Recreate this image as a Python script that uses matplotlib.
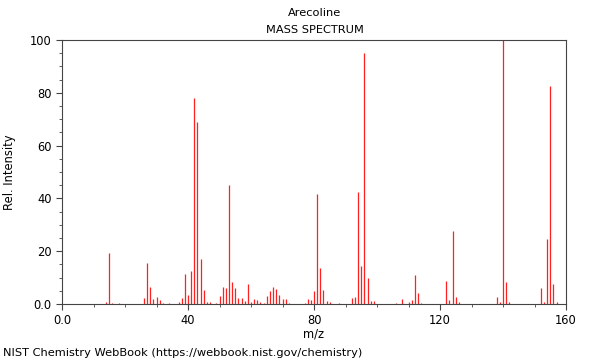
# LIBRARIES

import matplotlib
matplotlib.use("Agg")
import matplotlib.pyplot as plt
from matplotlib.ticker import MultipleLocator


# DATA

mz = [14, 15, 16, 18, 26, 27, 28, 29, 30, 31, 32, 34,
      37, 38, 39, 40, 41, 42, 43, 44, 45, 46, 47, 49,
      50, 51, 52, 53, 54, 55, 56, 57, 58, 59, 60, 61,
      62, 63, 64, 65, 66, 67, 68, 69, 70, 71, 72, 77,
      78, 79, 80, 81, 82, 83, 84, 85, 88, 92, 93, 94,
      95, 96, 97, 98, 99, 106, 108, 110, 111, 112, 113, 114,
      122, 123, 124, 125, 126, 138, 139, 140, 141, 142,
      152, 153, 154, 155, 156, 157]
intensity = [0.9, 19.4, 0.3, 0.3, 2.1, 15.7, 6.3, 2.0, 2.6, 1.5, 0.5, 0.3,
             0.9, 2.4, 11.4, 3.3, 12.5, 78.0, 68.8, 17.0, 5.4, 0.9, 0.9, 0.3,
             3.2, 6.3, 6.0, 45.1, 8.3, 6.0, 2.3, 2.3, 1.0, 7.6, 0.8, 1.8,
             1.5, 0.9, 0.3, 2.9, 4.9, 6.4, 5.5, 3.3, 1.8, 1.8, 0.3, 0.3,
             1.9, 1.6, 4.8, 41.5, 13.8, 5.3, 1.2, 0.6, 0.3, 2.4, 2.6, 42.4,
             14.4, 95.2, 9.8, 1.0, 1.0, 0.3, 2.0, 0.9, 1.4, 11.0, 4.3, 0.3,
             8.7, 1.5, 27.5, 2.6, 0.9, 2.6, 0.6, 100.0, 8.3, 0.8,
             6.0, 0.8, 24.6, 82.4, 7.7, 0.8]

compound = "Arecoline"
x_ticks = [0, 40, 80, 120, 160]
x_labels = ["0.0", "40", "80", "120", "160"]
y_ticks = [0, 20, 40, 60, 80, 100]
y_labels = ["0.0", "20", "40", "60", "80", "100"]


# VISUALIZATION

fig = plt.figure(figsize=(6, 3.6), dpi=100)
ax = fig.add_axes([62/600, 1 - 304/360, 504/600, 264/360])

ax.vlines(mz, 0, intensity, colors="#ff2020", linewidth=0.9)

ax.set_xlim(0, 160)
ax.set_ylim(0, 100)
ax.set_xticks(x_ticks)
ax.set_xticklabels(x_labels)
ax.set_yticks(y_ticks)
ax.set_yticklabels(y_labels)
ax.xaxis.set_minor_locator(MultipleLocator(10))
ax.yaxis.set_minor_locator(MultipleLocator(5))
ax.tick_params(which="both", direction="out", labelsize=8.3, color="#444444")
ax.tick_params(which="major", length=4)
ax.tick_params(which="minor", length=2.5)
for s in ax.spines.values():
    s.set_color("#444444")

ax.set_xlabel("m/z", fontsize=8.3)
ax.set_ylabel("Rel. Intensity", fontsize=8.3)
ax.yaxis.set_label_coords(-0.092, 0.5)
ax.xaxis.set_label_coords(0.5, -0.088)

fig.text(0.525, 1 - 13/360, compound, ha="center", va="center", fontsize=8.2)
fig.text(0.525, 1 - 30/360, "MASS SPECTRUM", ha="center", va="center", fontsize=8.2)
fig.text(3/600, 1 - 353/360, "NIST Chemistry WebBook (https://webbook.nist.gov/chemistry)",
         ha="left", va="center", fontsize=8.2)


# OUTPUT

fig.savefig("out.png", dpi=100)
